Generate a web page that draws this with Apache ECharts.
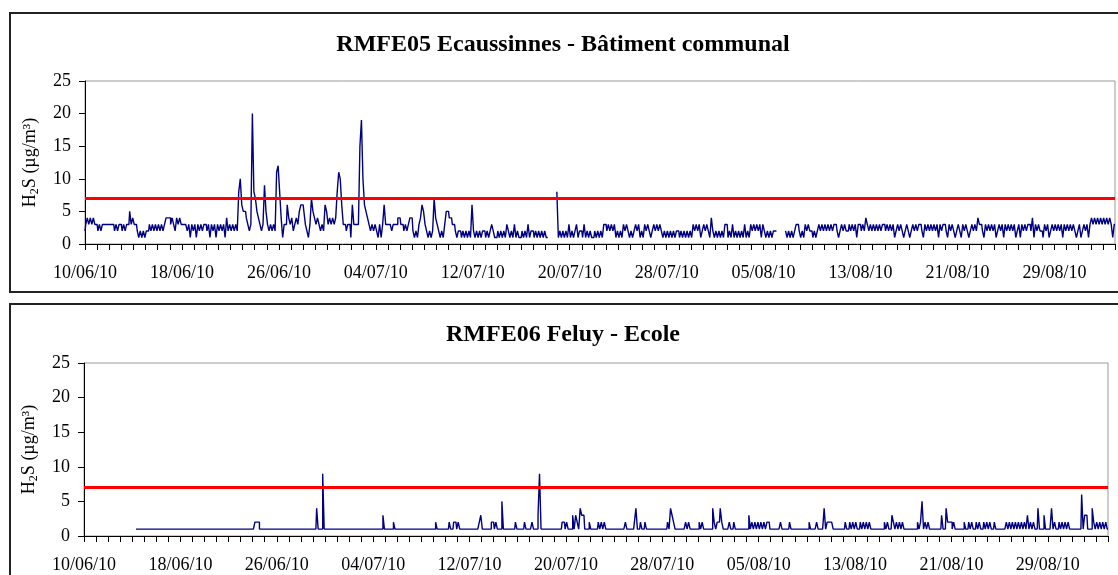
<!DOCTYPE html>
<html><head><meta charset="utf-8">
<script src="https://cdn.jsdelivr.net/npm/echarts@6/dist/echarts.min.js"></script>
<style>html,body{margin:0;padding:0;background:#fff}#c{width:1118px;height:575px}</style>
</head><body><div id="c"></div>
<script>
// Tick labels every 8 days (day 0 = 10/06/2010)
const tickLabels = ['10/06/10','18/06/10','26/06/10','04/07/10','12/07/10','20/07/10','28/07/10','05/08/10','13/08/10','21/08/10','29/08/10'];
const titles = ['RMFE05 Ecaussinnes - Bâtiment communal', 'RMFE06 Feluy - Ecole'];
const threshold = 7;
const stepsPerDay = 8; // one value every 3 hours
// One string per day, 8 values each (base-36 digit: a=10 ... k=20, '-' = no data)
const rmfe05Days = [
 "23434343","32323333","33332323","32323353","43321212","12232323","23232344","43432434",
 "33332313","23132323","32313231","32323142","3232328a","6554323k","87543239","5323232b",
 "c8413364","34234356","65321375","43432326","53434348","ba633233","163333fj","a6543232",
 "32131363","33323334","43323234","42121346","53212127","43212135","54433212","21212121",
 "62121212","21212321","12121213","21213121","12121312","21212121","21------","81212121",
 "31212312","21312121","12121213","32323231","21213232","12123231","21323212","32323212",
 "12121212","21212121","21323231","23232142","12121213","31213121","21213121","32323231",
 "32121212","2------2","12121233","21213232","21212323","23232323","32123232","23232313",
 "32324323","23232323","32323231","23232123","21232323","32132323","23231323","32132321",
 "23213232","12323243","32132323","23123231","32323231","23132323","32413232","21323123",
 "23232313","23232321","23123231","34343434","34343431","3"
];
const rmfe06Days = [
 "--------","--------","--------","--------","---11111","11111111","11111111","11111111",
 "11111111","11111111","11111111","11111111","11111111","11111111","11222111","11111111",
 "11111111","11111111","11111111","11141119","11111111","11111111","11111111","11111111",
 "11111113","11111121","11111111","11111111","11111111","11211111","11121122","12111111",
 "11111112","31111112","21211151","11111112","11111211","11211139","11111111","11111122",
 "12111313","21433111","21111121","21211111","11111111","21111124","11211211","11111111",
 "11112143","21111111","21211111","12121111","11421224","21111211","21111111","11312121",
 "21212122","11111112","11111211","11111111","11211112","11114122","22111111","11211212",
 "12112121","21211111","11112121","13212121","21111111","11212512","12111111","11311422",
 "21211111","12112121","12121121","21211211","11111212","12121212","12131212","11411131",
 "11141211","21212121","11111116","13311142","12121212","1"
];

function decode(days) {
  const s = days.join('');
  const out = [];
  for (let i = 0; i < s.length; i++) {
    const ch = s[i];
    out.push([i / stepsPerDay, ch === '-' ? '-' : parseInt(ch, 36)]);
  }
  return out;
}

const FONT = '"Liberation Serif", "Times New Roman", serif';
const chart = echarts.init(document.getElementById('c'), null, {renderer: 'canvas'});

function xAxis(gi) {
  return {
    type: 'value', gridIndex: gi, min: 0, max: 85, interval: 1,
    axisLine: {show: true, lineStyle: {color: '#000', width: 1}},
    axisTick: {show: true, length: 6, lineStyle: {color: '#000', width: 1}},
    splitLine: {show: false},
    axisLabel: {
      color: '#000', fontFamily: FONT, fontSize: 18, margin: 20,
      formatter: v => { const d = Math.round(v); return d % 8 === 0 && tickLabels[d / 8] ? tickLabels[d / 8] : ''; }
    }
  };
}
function yAxis(gi) {
  return {
    type: 'value', gridIndex: gi, min: 0, max: 25, interval: 5,
    axisLine: {show: true, lineStyle: {color: '#000', width: 1}},
    axisTick: {show: true, length: 6, lineStyle: {color: '#000', width: 1}},
    splitLine: {show: false},
    axisLabel: {color: '#000', fontFamily: FONT, fontSize: 18, margin: 14},
    name: '{n|H}{s|2}{n|S (µg/m³)}',
    nameLocation: 'middle', nameGap: 44, nameRotate: 90,
    nameTextStyle: {
      rich: {
        n: {fontFamily: FONT, fontSize: 18, color: '#000', lineHeight: 22},
        s: {fontFamily: FONT, fontSize: 12, color: '#000', lineHeight: 14, verticalAlign: 'bottom'}
      }
    }
  };
}
function lineSeries(gi, days) {
  return {
    type: 'line', xAxisIndex: gi, yAxisIndex: gi, data: decode(days),
    showSymbol: false, symbol: 'none', connectNulls: false, step: 'middle',
    lineStyle: {color: '#000080', width: 1.4}, itemStyle: {color: '#000080'},
    silent: true, z: 2,
    markLine: {
      silent: true, symbol: ['none', 'none'], label: {show: false},
      lineStyle: {color: '#ff0000', width: 3, type: 'solid'},
      data: [{yAxis: threshold}], z: 3
    }
  };
}

chart.setOption({
  animation: false,
  backgroundColor: '#fff',
  title: [
    {text: titles[0], left: 558, top: 27, textAlign: 'center',
     textStyle: {fontFamily: FONT, fontSize: 24, fontWeight: 'bold', color: '#000', lineHeight: 26}},
    {text: titles[1], left: 558, top: 317, textAlign: 'center',
     textStyle: {fontFamily: FONT, fontSize: 24, fontWeight: 'bold', color: '#000', lineHeight: 26}}
  ],
  graphic: [
    {type: 'rect', shape: {x: 10, y: 13, width: 1125, height: 279}, style: {fill: 'none', stroke: '#222', lineWidth: 2}, silent: true},
    {type: 'rect', shape: {x: 10, y: 304, width: 1125, height: 300}, style: {fill: 'none', stroke: '#222', lineWidth: 2}, silent: true}
  ],
  grid: [
    {left: 85, top: 81, right: 3, height: 163, show: true, borderColor: '#999', borderWidth: 1, backgroundColor: 'transparent'},
    {left: 84, top: 363, right: 10, height: 173, show: true, borderColor: '#999', borderWidth: 1, backgroundColor: 'transparent'}
  ],
  xAxis: [xAxis(0), xAxis(1)],
  yAxis: [yAxis(0), yAxis(1)],
  series: [lineSeries(0, rmfe05Days), lineSeries(1, rmfe06Days)]
});
</script></body></html>
